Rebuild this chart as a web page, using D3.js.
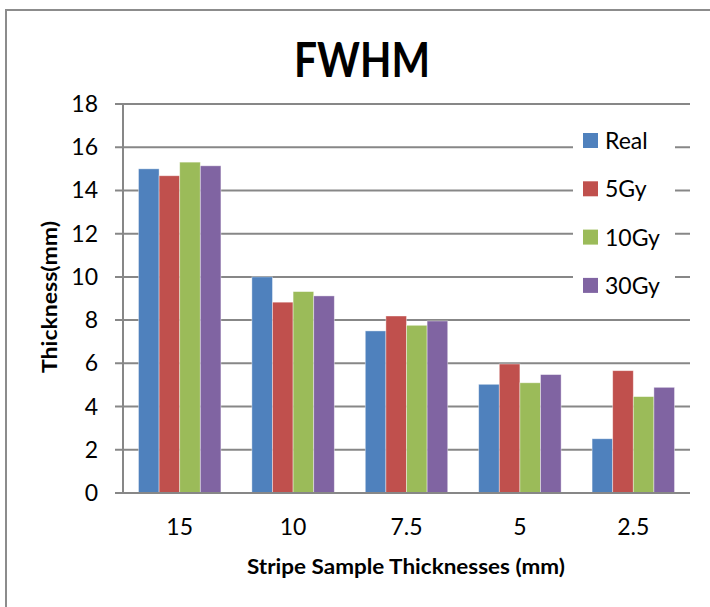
<!DOCTYPE html>
<html><head><meta charset="utf-8">
<script src="https://cdn.jsdelivr.net/npm/d3@7"></script>
<style>body{margin:0;background:#fff;} svg{display:block;}</style>
</head><body>
<script>
const categories = ["15", "10", "7.5", "5", "2.5"];
const seriesNames = ["Real", "5Gy", "10Gy", "30Gy"];
const realValues = [15.0, 10.0, 7.5, 5.03, 2.51];
const gy5Values = [14.68, 8.83, 8.19, 5.97, 5.66];
const gy10Values = [15.31, 9.32, 7.76, 5.1, 4.46];
const gy30Values = [15.14, 9.12, 7.96, 5.48, 4.89];
const yTicks = [0, 2, 4, 6, 8, 10, 12, 14, 16, 18];
const colors = ["#4F81BD", "#C0504D", "#9BBB59", "#8064A2"];
const seriesValues = [realValues, gy5Values, gy10Values, gy30Values];

(function () {
const W = 710, H = 607;
const font = "Lato, 'Open Sans', sans-serif";
const svg = d3.select("body").append("svg").attr("width", W).attr("height", H);
svg.append("rect").attr("width", W).attr("height", H).attr("fill", "#fff");
// outer border
svg.append("rect").attr("x", 6).attr("y", 10).attr("width", 720).attr("height", 620)
  .attr("fill", "none").attr("stroke", "#8c8c8c").attr("stroke-width", 2);

const pLeft = 123, pRight = 690, pTop = 104, pBottom = 493;
const x0 = d3.scaleBand().domain(categories).range([pLeft, pRight]).paddingInner(0.273).paddingOuter(0.1365);
const x1 = d3.scaleBand().domain(seriesNames).range([0, x0.bandwidth()]);
const y = d3.scaleLinear().domain([0, 18]).range([pBottom, pTop]);

// gridlines
const g = svg.append("g");
g.selectAll("line.grid").data(yTicks).join("line")
  .attr("x1", pLeft - 8).attr("x2", pRight)
  .attr("y1", d => y(d)).attr("y2", d => y(d))
  .attr("stroke", "#878787").attr("stroke-width", 2);
// y axis line
g.append("line").attr("x1", pLeft).attr("x2", pLeft).attr("y1", pTop).attr("y2", pBottom + 1)
  .attr("stroke", "#878787").attr("stroke-width", 2);

// y tick labels
svg.append("g").selectAll("text").data(yTicks).join("text")
  .attr("x", pLeft - 25).attr("y", d => y(d) + 8)
  .attr("text-anchor", "end").attr("font-family", font).attr("font-size", 23)
  .attr("fill", "#000").text(d => d);

// bars
const rows = categories.map((c, i) => ({cat: c, vals: seriesNames.map((s, j) => ({s, v: seriesValues[j][i], c: colors[j]}))}));
svg.append("g").selectAll("g").data(rows).join("g")
  .attr("transform", d => `translate(${x0(d.cat)},0)`)
  .selectAll("rect").data(d => d.vals).join("rect")
  .attr("x", d => x1(d.s)).attr("width", x1.bandwidth())
  .attr("y", d => y(d.v)).attr("height", d => y(0) - y(d.v))
  .attr("fill", d => d.c).attr("stroke", "rgba(255,255,255,0.5)").attr("stroke-width", 0.8);

// x axis baseline over bars
svg.append("line").attr("x1", pLeft - 8).attr("x2", pRight).attr("y1", y(0)).attr("y2", y(0))
  .attr("stroke", "#878787").attr("stroke-width", 2);

// x tick labels
svg.append("g").selectAll("text").data(categories).join("text")
  .attr("x", d => x0(d) + x0.bandwidth() / 2).attr("y", 535)
  .attr("text-anchor", "middle").attr("font-family", font).attr("font-size", 23)
  .attr("fill", "#000").text(d => d);

// title
svg.append("text").attr("x", 362).attr("y", 77).attr("text-anchor", "middle")
  .attr("font-family", font).attr("font-weight", "bold").attr("font-size", 48)
  .attr("textLength", 136).attr("lengthAdjust", "spacingAndGlyphs")
  .text("FWHM");

// axis titles
svg.append("text").attr("x", 406).attr("y", 574).attr("text-anchor", "middle")
  .attr("font-family", font).attr("font-weight", "bold").attr("font-size", 21)
  .attr("textLength", 318).attr("lengthAdjust", "spacingAndGlyphs")
  .text("Stripe Sample Thicknesses (mm)");
svg.append("text").attr("transform", "translate(57,297) rotate(-90)").attr("text-anchor", "middle")
  .attr("font-family", font).attr("font-weight", "bold").attr("font-size", 21)
  .attr("textLength", 152).attr("lengthAdjust", "spacingAndGlyphs")
  .text("Thickness(mm)");

// legend
const lg = svg.append("g");
lg.append("rect").attr("x", 573).attr("y", 118).attr("width", 102).attr("height", 190).attr("fill", "#fff");
const li = lg.selectAll("g").data(seriesNames).join("g")
  .attr("transform", (d, i) => `translate(583,${133 + i * 48.3})`);
li.append("rect").attr("width", 15).attr("height", 15).attr("fill", (d, i) => colors[i]);
li.append("text").attr("x", 22).attr("y", 16).attr("font-family", font).attr("font-size", 23)
  .text(d => d);
})();
</script>
</body></html>
